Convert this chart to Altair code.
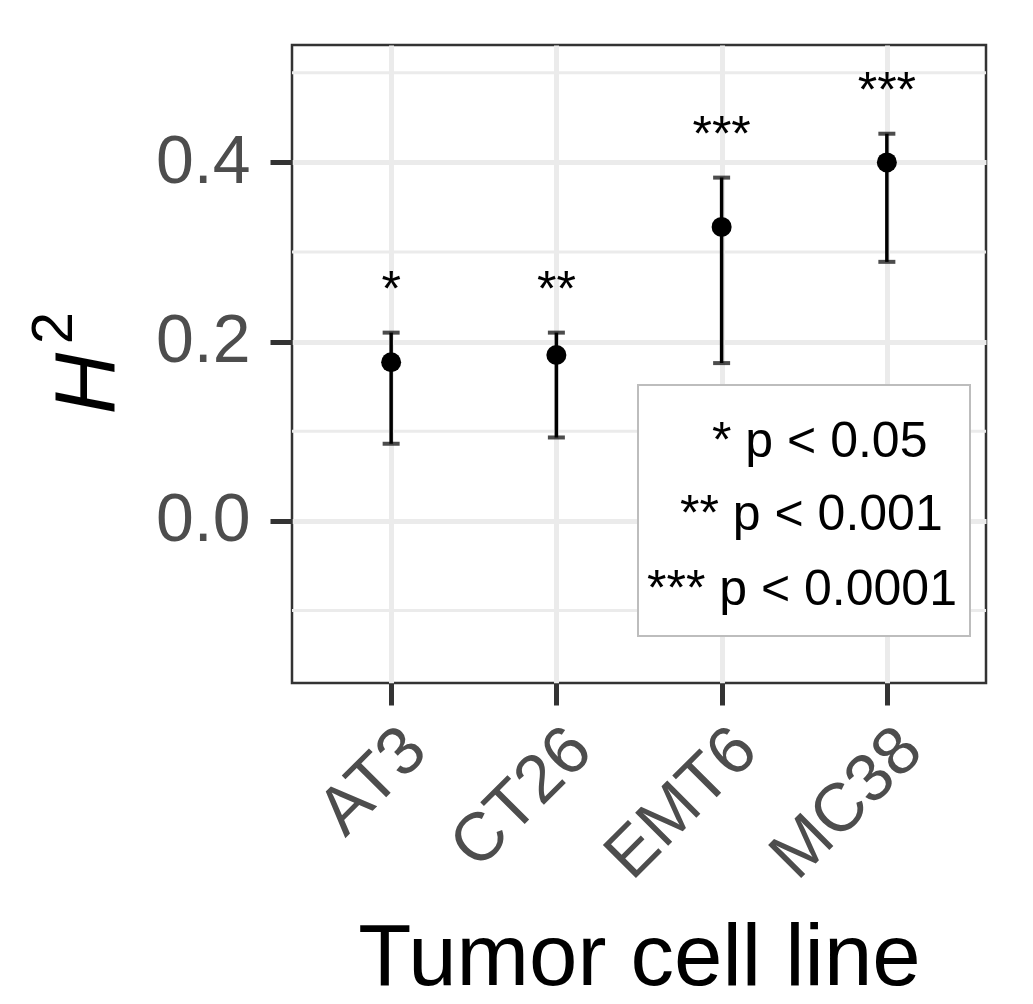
import altair as alt
import pandas as pd

# ---- data ----
cell_lines = ["AT3", "CT26", "EMT6", "MC38"]
h2_estimate = [0.177, 0.185, 0.328, 0.400]
h2_lower = [0.086, 0.093, 0.176, 0.289]
h2_upper = [0.210, 0.210, 0.383, 0.432]
star_labels = ["*", "**", "***", "***"]
star_y = [0.240, 0.240, 0.413, 0.462]

y_major_ticks = [0.0, 0.2, 0.4]
y_minor_ticks = [-0.1, 0.1, 0.3, 0.5]
y_domain = [-0.181, 0.531]

legend_labels = ["* p < 0.05", "** p < 0.001", "*** p < 0.0001"]

df = pd.DataFrame({
    "line": cell_lines,
    "est": h2_estimate,
    "lo": h2_lower,
    "hi": h2_upper,
    "star": star_labels,
    "star_y": star_y,
})
minor_df = pd.DataFrame({"v": y_minor_ticks})

FONT = "Liberation Sans"
W, H = 694, 638

xenc = alt.X(
    "line:N",
    sort=cell_lines,
    scale=alt.Scale(type="point", padding=0.6),
    axis=alt.Axis(
        title="Tumor cell line",
        labelAngle=-45, labelAlign="right", labelBaseline="top",
        labelFontSize=68, labelColor="#4D4D4D", labelPadding=10, labelFont=FONT,
        labelLimit=500,
        tickSize=22, tickWidth=5, tickColor="#333333",
        grid=True, gridColor="#EBEBEB", gridWidth=5,
        domain=False,
        titleFontSize=87, titleFont=FONT, titleFontWeight="normal", titleColor="black",
        titleY=301, titleBaseline="alphabetic",
    ),
)

yscale = alt.Scale(domain=y_domain, nice=False, zero=False)
yaxis = alt.Axis(
    title="H",
    values=y_major_ticks, format=".1f",
    labelFontSize=68, labelColor="#4D4D4D", labelPadding=20, labelFont=FONT,
    tickSize=22, tickWidth=5, tickColor="#333333",
    grid=True, gridColor="#EBEBEB", gridWidth=5,
    domain=False,
    titleFontSize=85, titleFont=FONT, titleFontWeight="normal", titleFontStyle="italic",
    titleColor="black", titleX=-179, titleY=338, titleBaseline="alphabetic", titleAngle=270,
)

base = alt.Chart(df)

minor = alt.Chart(minor_df).mark_rule(color="#EBEBEB", strokeWidth=3).encode(
    y=alt.Y("v:Q", scale=yscale, axis=yaxis)
)

bars = base.mark_rule(color="black", strokeWidth=3.5).encode(
    x=xenc, y=alt.Y("lo:Q", scale=yscale), y2="hi:Q"
)
cap_lo = base.mark_tick(color="black", thickness=4, size=17).encode(
    x=xenc, y=alt.Y("lo:Q", scale=yscale)
)
cap_hi = base.mark_tick(color="black", thickness=4, size=17).encode(
    x=xenc, y=alt.Y("hi:Q", scale=yscale)
)
pts = base.mark_circle(color="black", size=400, opacity=1).encode(
    x=xenc, y=alt.Y("est:Q", scale=yscale)
)
stars = base.mark_text(fontSize=50, font=FONT, baseline="alphabetic", align="center", color="black").encode(
    x=xenc, y=alt.Y("star_y:Q", scale=yscale), text="star:N"
)

sup = alt.Chart(pd.DataFrame({"t": ["2"]})).mark_text(
    fontSize=58, font=FONT, angle=270, baseline="alphabetic", align="center", color="black"
).encode(x=alt.value(-220), y=alt.value(283), text="t:N")

one = pd.DataFrame({"k": [0]})
box = alt.Chart(one).mark_rect(fill="white", stroke="#BDBDBD", strokeWidth=2).encode(
    x=alt.value(346), x2=alt.value(678), y=alt.value(340), y2=alt.value(591)
)

leg_x = [420, 388, 355]
leg_y = [412, 485, 560]
leg_layers = []
for lab, lx, ly in zip(legend_labels, leg_x, leg_y):
    leg_layers.append(
        alt.Chart(pd.DataFrame({"t": [lab]})).mark_text(
            fontSize=50, font=FONT, align="left", baseline="alphabetic", color="black"
        ).encode(x=alt.value(lx), y=alt.value(ly), text="t:N")
    )

chart = alt.layer(minor, bars, cap_lo, cap_hi, pts, stars, box, *leg_layers, sup).properties(
    width=W, height=H,
    autosize=alt.AutoSizeParams(type="none"),
    padding={"left": 284, "top": 37, "right": 39, "bottom": 320},
    background="white",
).configure(
    font=FONT
).configure_view(
    stroke="#333333", strokeWidth=2.5, fill="white"
)

chart.save("out.html", embed_options={"renderer": "svg", "actions": False})
